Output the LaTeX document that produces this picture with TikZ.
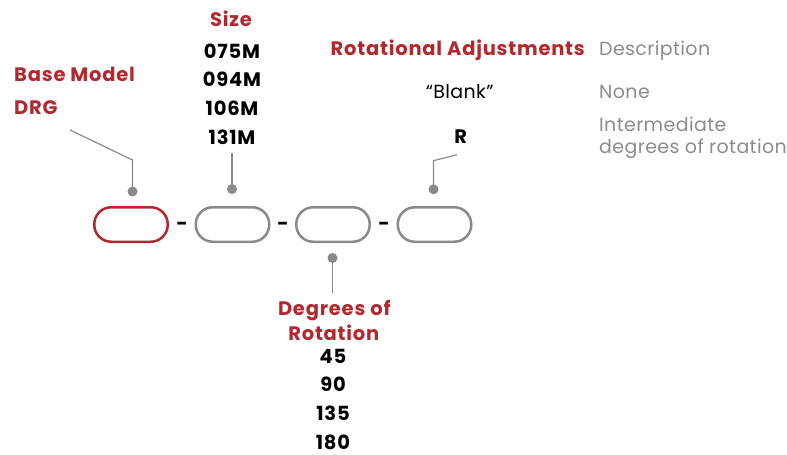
\documentclass[tikz,border=0pt]{standalone}
\usepackage{fontspec}
\setmainfont{Poppins}
\newfontfamily\hfont{Poppins Bold}[LetterSpace=4]
\newfontfamily\rfont{Poppins}[LetterSpace=2]
\definecolor{brandred}{HTML}{B3282E}
\definecolor{linegray}{HTML}{8A8A8D}
\definecolor{textgray}{HTML}{8C8C8C}
\begin{document}
\begin{tikzpicture}[x=1pt,y=-1pt,
  pill/.style={draw=linegray,line width=2.5pt,rounded corners=17pt,minimum width=73.5pt,minimum height=34.5pt,inner sep=0pt},
  redpill/.style={pill,draw=brandred},
  dot/.style={circle,fill=linegray,inner sep=0pt,minimum size=10pt},
  leader/.style={draw=linegray,line width=1.2pt},
  head/.style={inner sep=0pt,text=brandred,font=\fontsize{19.5}{22}\hfont},
  val/.style={inner sep=0pt,text=black,font=\fontsize{19.5}{22}\hfont},
  desc/.style={inner sep=0pt,text=textgray,font=\fontsize{19}{21}\rfont,anchor=base west},
  plain/.style={inner sep=0pt,text=black,font=\fontsize{19}{21}\rfont,anchor=base},
  sep/.style={inner sep=0pt,text=black,font=\fontsize{19.5}{22}\hfont}
]
\useasboundingbox (0,0) rectangle (787,455);
% pills
\node[redpill] (p1) at (131,224.5) {};
\node[pill] (p2) at (232.5,224.5) {};
\node[pill] (p3) at (333,224.5) {};
\node[pill] (p4) at (434.5,224.5) {};
\node[sep] (s1) at (182,226) {-};
\node[sep] (s2) at (283,226) {-};
\node[sep] (s3) at (384,226) {-};
% dots and leaders
\node[dot] (d1) at (132.5,191.5) {};
\node[dot] (d2) at (232,189) {};
\node[dot] (d3) at (332.5,258) {};
\node[dot] (d4) at (433.5,189.3) {};
\coordinate (b1) at (132.5,160);
\coordinate (e1) at (70,130);
\coordinate (e2) at (232,153);
\coordinate (e3) at (332.5,293);
\coordinate (b4) at (433.5,160.7);
\coordinate (e4) at (457,154.7);
\draw[leader] (d1.center) -- (b1) -- (e1);
\draw[leader] (d2.center) -- (e2);
\draw[leader] (d3.center) -- (e3);
\draw[leader] (d4.center) -- (b4) -- (e4);
% base model
\node[head,anchor=base west] (bm) at (14,81.7) {Base Model};
\node[head,anchor=base west] (drg) at (14,114.3) {DRG};
% size
\node[head,anchor=base] (size) at (231,26.7) {Size};
\node[val,anchor=base] (z1) at (232,58.3) {075M};
\node[val,anchor=base] (z2) at (232,86.9) {094M};
\node[val,anchor=base] (z3) at (232,115.5) {106M};
\node[val,anchor=base] (z4) at (232,144.3) {131M};
% rotational adjustments
\node[head,anchor=base east] (ra) at (585,55) {Rotational Adjustments};
\node[desc] (dh) at (599,55) {Description};
\node[plain] (blank) at (459.7,98.3) {“Blank”};
\node[desc] (none) at (599,98.3) {None};
\node[val,anchor=base] (r) at (460.7,143.3) {R};
\node[desc] (int1) at (599,131.7) {Intermediate};
\node[desc] (int2) at (599,153.3) {degrees of rotation};
% degrees of rotation
\node[head,anchor=base] (dr1) at (334.3,315) {Degrees of};
\node[head,anchor=base] (dr2) at (333.8,340.7) {Rotation};
\node[val,anchor=base] (g1) at (333,363.3) {45};
\node[val,anchor=base] (g2) at (333,391.7) {90};
\node[val,anchor=base] (g3) at (333,420) {135};
\node[val,anchor=base] (g4) at (333,449) {180};
\end{tikzpicture}
\end{document}
